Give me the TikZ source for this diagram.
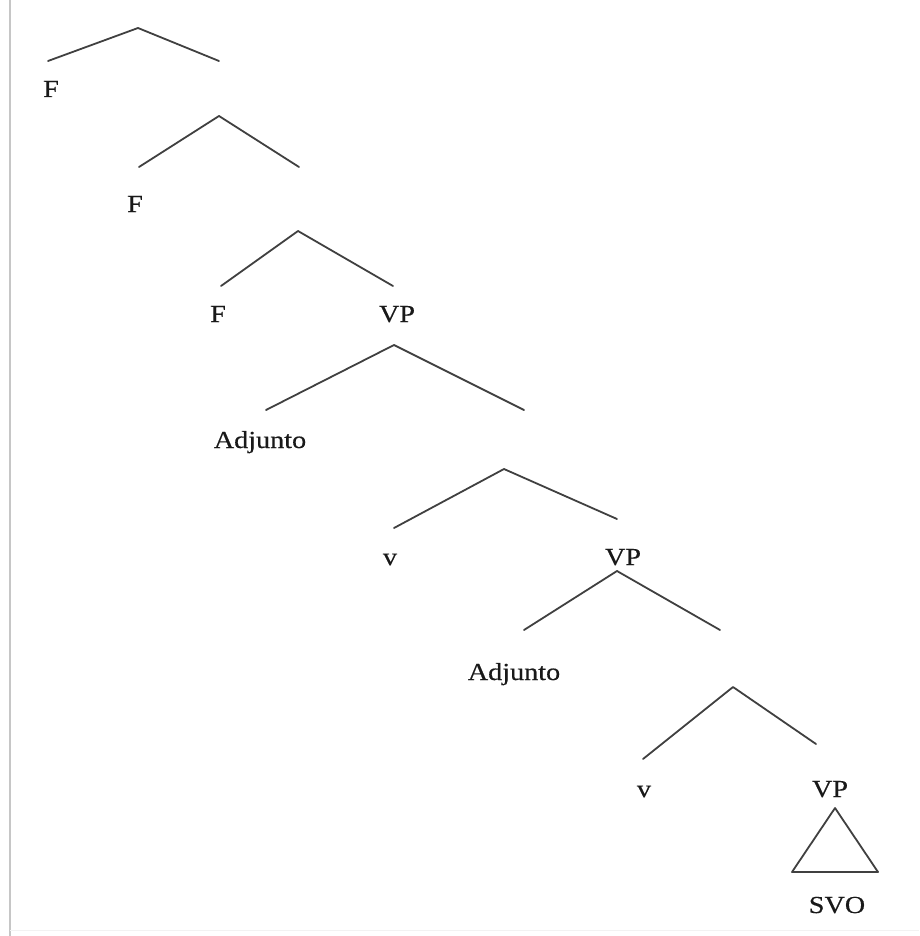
\documentclass[tikz,border=0pt]{standalone}
\usepackage{fontspec}
\setmainfont{Liberation Serif}[FakeStretch=1.15, FakeBold=0.4]
\usetikzlibrary{positioning}

\begin{document}
\begin{tikzpicture}[x=1pt, y=-1pt,
    rama/.style={line width=1.8pt, black!75, line cap=round, line join=round},
    etiq/.style={anchor=base, inner sep=0pt, text=black!90, font=\fontsize{24.5}{28}\selectfont}]
    \useasboundingbox (0,0) rectangle (919,936);

    % Borde de la captura
    \draw[gray!45, line width=1.5pt] (10,0) -- (10,936);
    \draw[gray!10, line width=1pt] (10,930) -- (919,930);

    % Etiquetas
    \node[etiq] (f1) at (51,97) {F};
    \node[etiq] (f2) at (135,212) {F};
    \node[etiq] (f3) at (218,322) {F};
    \node[etiq] (vp1) at (397,322) {VP};
    \node[etiq] (adj1) at (260,448) {Adjunto};
    \node[etiq] (v1) at (390,565) {v};
    \node[etiq] (vp2) at (623,565) {VP};
    \node[etiq] (adj2) at (514,680) {Adjunto};
    \node[etiq] (v2) at (644,797) {v};
    \node[etiq] (vp3) at (830,797) {VP};
    \node[etiq] (svo) at (837,913) {SVO};

    % Nudos y extremos de las ramas
    \coordinate (n1) at (138,28);  \coordinate (i1) at (48,61);   \coordinate (d1) at (219,61);
    \coordinate (n2) at (219,116); \coordinate (i2) at (139,167); \coordinate (d2) at (299,167);
    \coordinate (n3) at (298,231); \coordinate (i3) at (221,286); \coordinate (d3) at (393,286);
    \coordinate (n4) at (394,345); \coordinate (i4) at (266,410); \coordinate (d4) at (524,410);
    \coordinate (n5) at (504,469); \coordinate (i5) at (394,528); \coordinate (d5) at (617,519);
    \coordinate (n6) at (617,571); \coordinate (i6) at (524,630); \coordinate (d6) at (720,630);
    \coordinate (n7) at (733,687); \coordinate (i7) at (643,759); \coordinate (d7) at (816,744);

    % Ramas
    \foreach \k in {1,...,7}
        \draw[rama] (i\k) -- (n\k) -- (d\k);

    % Triángulo bajo el último VP
    \coordinate (tc) at (835,808);
    \coordinate (ti) at (792,872);
    \coordinate (td) at (878,872);
    \draw[rama] (tc) -- (ti) -- (td) -- cycle;
\end{tikzpicture}
\end{document}
